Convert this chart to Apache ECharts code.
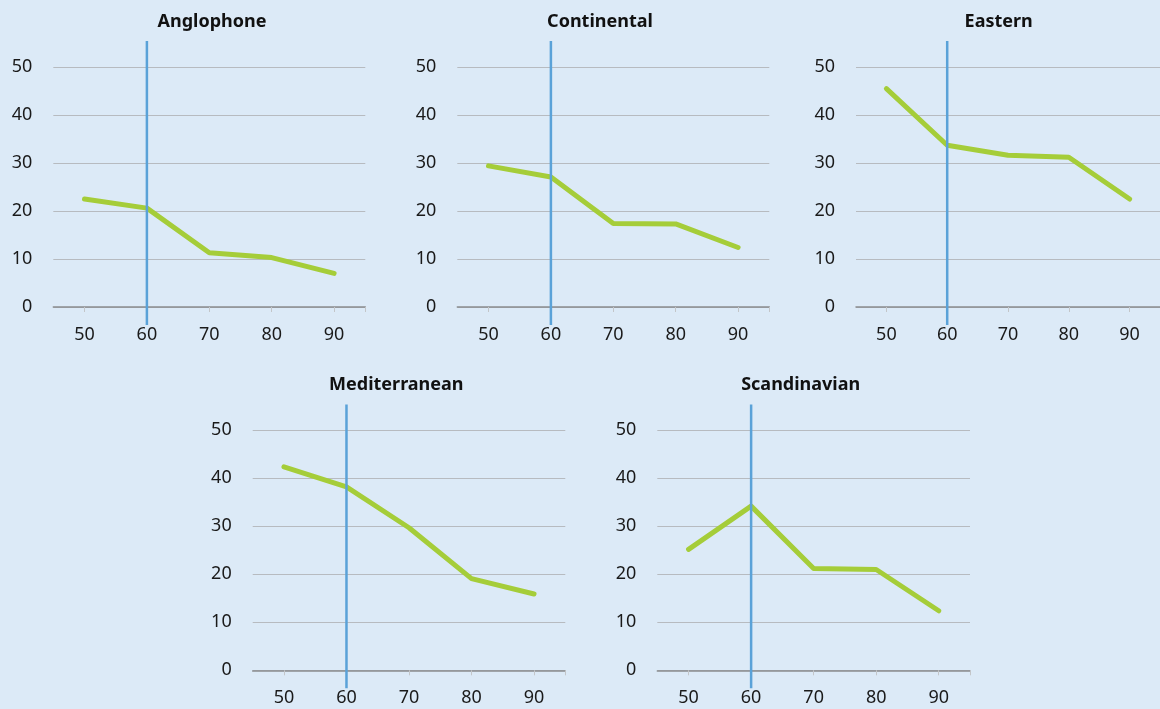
<!DOCTYPE html>
<html>
<head>
<meta charset="utf-8">
<script src="https://cdn.jsdelivr.net/npm/echarts@6/dist/echarts.min.js"></script>
<style>
  html, body { margin: 0; padding: 0; background: #dceaf7; }
  #chart { width: 1160px; height: 709px; }
</style>
</head>
<body>
<div id="chart"></div>
<script>
// ---- data ----
const ages = [50, 60, 70, 80, 90];
const panelNames = ['Anglophone', 'Continental', 'Eastern', 'Mediterranean', 'Scandinavian'];
const anglophone = [22.5, 20.6, 11.3, 10.3, 7.0];
const continental = [29.4, 27.1, 17.4, 17.3, 12.4];
const eastern = [45.5, 33.7, 31.6, 31.2, 22.5];
const mediterranean = [42.4, 38.2, 29.7, 19.1, 15.9];
const scandinavian = [25.2, 34.2, 21.2, 21.0, 12.4];
const xTickValues = [50, 60, 70, 80, 90, 95];
const xLabelValues = [50, 60, 70, 80, 90];
const markerAge = 60;
const markerSpan = [-3.75, 55.4];

const seriesValues = [anglophone, continental, eastern, mediterranean, scandinavian];

// ---- layout ----
const panels = [
  { left: 53.3, top: 67, width: 312, height: 240, titleX: 212, titleY: 13 },
  { left: 457.3, top: 67, width: 312, height: 240, titleX: 600, titleY: 13 },
  { left: 856, top: 67, width: 312, height: 240, titleX: 998.7, titleY: 13 },
  { left: 252.7, top: 430.3, width: 312.6, height: 240, titleX: 396.3, titleY: 375.5 },
  { left: 657.3, top: 430.3, width: 312.7, height: 240, titleX: 800.7, titleY: 375.5 }
];

const FONT = '"Noto Sans", "Open Sans", sans-serif';
const GREEN = '#a5cd39';
const BLUE = '#5aa2d8';

const option = {
  backgroundColor: '#dceaf7',
  animation: false,
  title: [],
  grid: [],
  xAxis: [],
  yAxis: [],
  series: []
};

panels.forEach((p, i) => {
  option.title.push({
    text: panelNames[i],
    left: p.titleX,
    top: p.titleY,
    textAlign: 'center',
    padding: 0,
    textStyle: { fontFamily: FONT, fontSize: 18, fontWeight: 'bold', color: '#111' }
  });
  option.grid.push({ left: p.left, top: p.top, width: p.width, height: p.height, containLabel: false });
  option.xAxis.push({
    type: 'value',
    gridIndex: i,
    min: 45,
    max: 95,
    splitLine: { show: false },
    axisLine: { show: true, lineStyle: { color: '#8a8d90', width: 1.5 } },
    axisTick: { show: true, customValues: xTickValues, length: 5, lineStyle: { color: '#c3c6c9', width: 1 } },
    axisLabel: { customValues: xLabelValues, fontFamily: FONT, fontSize: 18, color: '#1a1a1a', margin: 19 }
  });
  option.yAxis.push({
    type: 'value',
    gridIndex: i,
    min: 0,
    max: 50,
    interval: 10,
    axisLine: { show: false },
    axisTick: { show: false },
    splitLine: { show: true, lineStyle: { color: '#b7bbc0', width: 1 } },
    axisLabel: { fontFamily: FONT, fontSize: 18, color: '#1a1a1a', margin: 21 }
  });
  option.series.push({
    type: 'line',
    xAxisIndex: i,
    yAxisIndex: i,
    data: ages.map((a, k) => [a, seriesValues[i][k]]),
    showSymbol: false,
    symbol: 'none',
    lineStyle: { color: GREEN, width: 5, cap: 'round', join: 'round' },
    z: 2
  });
  option.series.push({
    type: 'line',
    xAxisIndex: i,
    yAxisIndex: i,
    data: markerSpan.map(v => [markerAge, v]),
    showSymbol: false,
    symbol: 'none',
    clip: false,
    lineStyle: { color: BLUE, width: 2.5 },
    z: 3
  });
});

const chart = echarts.init(document.getElementById('chart'), null, { renderer: 'canvas' });
chart.setOption(option);
</script>
</body>
</html>
